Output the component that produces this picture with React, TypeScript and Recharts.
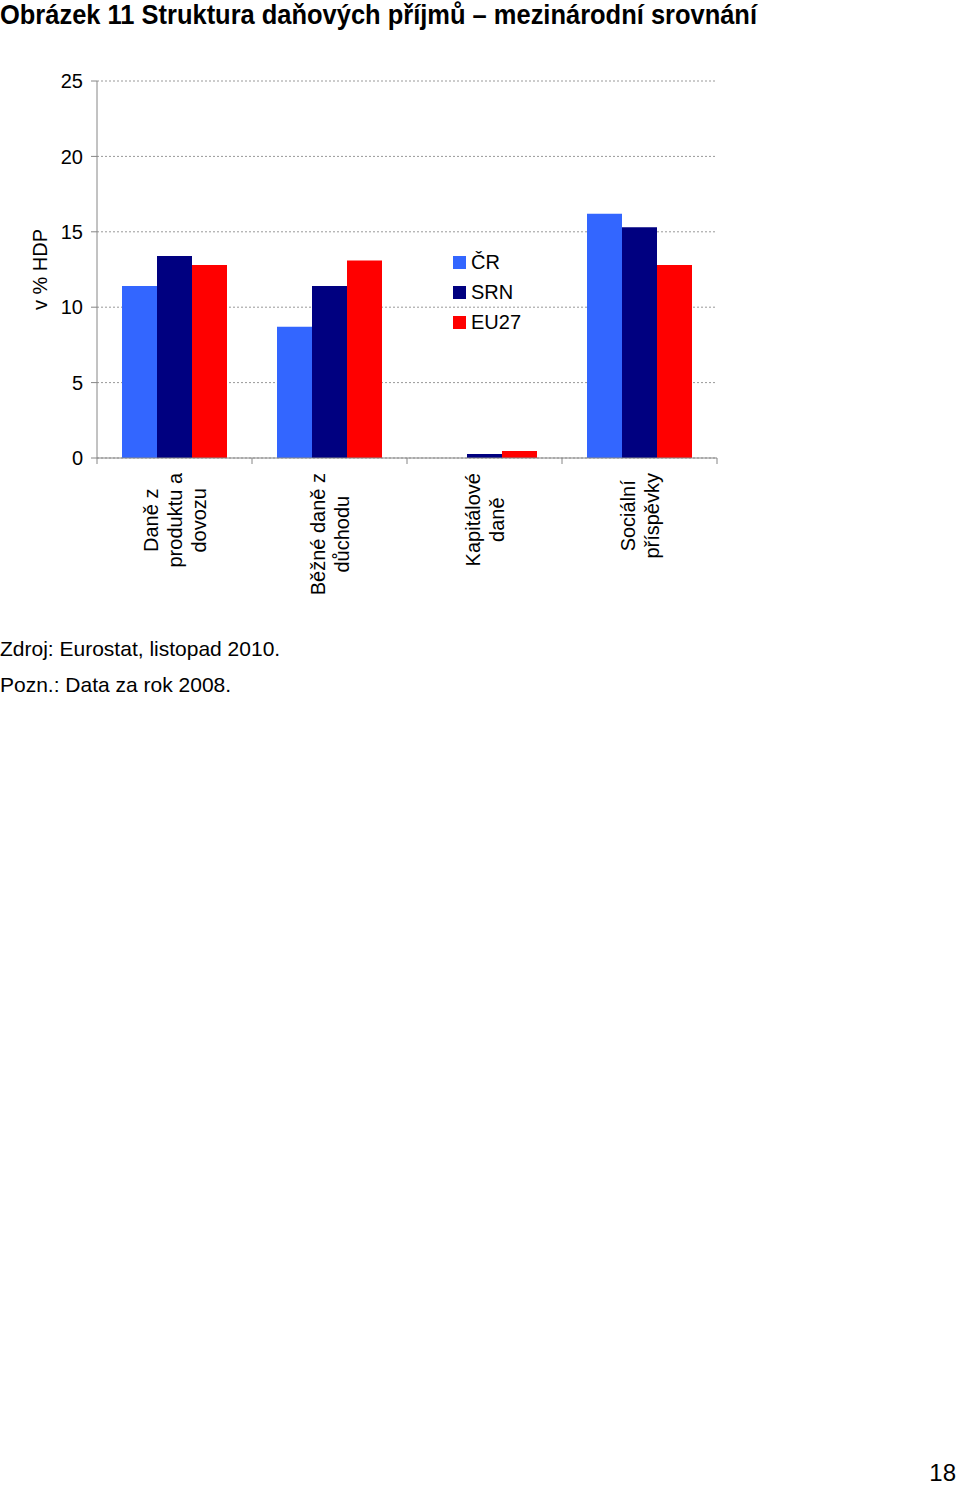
import React from 'react'
import {
  BarChart,
  Bar,
  XAxis,
  YAxis,
  CartesianGrid,
  Legend,
  Label,
} from 'recharts'

const FONT = '"Liberation Sans", Arial, sans-serif'

const categories = [
  'Daně z produktu a dovozu',
  'Běžné daně z důchodu',
  'Kapitálové daně',
  'Sociální příspěvky',
]
const categoryLines = [
  ['Daně z', 'produktu a', 'dovozu'],
  ['Běžné daně z', 'důchodu'],
  ['Kapitálové', 'daně'],
  ['Sociální', 'příspěvky'],
]
const crValues = [11.4, 8.7, 0, 16.2]
const srnValues = [13.4, 11.4, 0.26, 15.3]
const eu27Values = [12.8, 13.1, 0.46, 12.8]
const yTicks = [0, 5, 10, 15, 20, 25]

const series = [
  { key: 'cr', name: 'ČR', color: '#3366ff' },
  { key: 'srn', name: 'SRN', color: '#000080' },
  { key: 'eu27', name: 'EU27', color: '#ff0000' },
]

const data = categories.map((name, i) => ({
  name,
  cr: crValues[i],
  srn: srnValues[i],
  eu27: eu27Values[i],
}))

const CHART_W = 960
const CHART_H = 608
const X_AXIS_H = 150
const AXIS_Y = CHART_H - X_AXIS_H
const PLOT_LEFT = 97
const PLOT_RIGHT = 717
const BAND = (PLOT_RIGHT - PLOT_LEFT) / categories.length

let ctx: CanvasRenderingContext2D | null = null
function textWidth(s: string) {
  if (!ctx) ctx = document.createElement('canvas').getContext('2d')
  if (!ctx) return s.length * 10
  ctx.font = `20px ${FONT}`
  return ctx.measureText(s).width
}

function CategoryTick(props: any) {
  const { x, index } = props
  const lines = categoryLines[index] || []
  const maxW = Math.max(...lines.map(textWidth))
  const cy = AXIS_Y + 15 + maxW / 2
  const left = x - BAND / 2
  return (
    <g>
      <line x1={left} y1={AXIS_Y} x2={left} y2={AXIS_Y + 6} stroke="#868686" />
      {index === categories.length - 1 && (
        <line x1={left + BAND} y1={AXIS_Y} x2={left + BAND} y2={AXIS_Y + 6} stroke="#868686" />
      )}
      {lines.map((ln, i) => (
        <text
          key={i}
          transform={`translate(${x + (i - (lines.length - 1) / 2) * 24}, ${cy}) rotate(-90)`}
          textAnchor="middle"
          dominantBaseline="central"
          fontSize={20}
          fontFamily={FONT}
          fill="#000"
        >
          {ln}
        </text>
      ))}
    </g>
  )
}

function LegendBox() {
  return (
    <div style={{ fontFamily: FONT, fontSize: 20, color: '#000' }}>
      {series.map((s) => (
        <div key={s.key} style={{ display: 'flex', alignItems: 'center', height: 30 }}>
          <span style={{ width: 13, height: 13, background: s.color, marginRight: 5 }} />
          <span>{s.name}</span>
        </div>
      ))}
    </div>
  )
}

export default function App() {
  return (
    <div
      style={{
        position: 'absolute',
        left: 0,
        top: 0,
        width: 960,
        height: 1485,
        background: '#fff',
        fontFamily: FONT,
      }}
    >
      <svg width={960} height={1485} style={{ position: 'absolute', left: 0, top: 0 }}>
        <text
          x={0}
          y={24}
          fontSize={28}
          fontWeight="bold"
          fontFamily={FONT}
          textLength={757}
          lengthAdjust="spacingAndGlyphs"
        >
          Obrázek 11 Struktura daňových příjmů – mezinárodní srovnání
        </text>
        <text x={0} y={656} fontSize={21} fontFamily={FONT}>
          Zdroj: Eurostat, listopad 2010.
        </text>
        <text x={0} y={692} fontSize={21} fontFamily={FONT}>
          Pozn.: Data za rok 2008.
        </text>
        <text x={956} y={1481} fontSize={24} fontFamily={FONT} textAnchor="end">
          18
        </text>
      </svg>
      <div style={{ position: 'absolute', left: 0, top: 0 }}>
        <BarChart
          width={CHART_W}
          height={CHART_H}
          data={data}
          margin={{ top: 81, right: CHART_W - PLOT_RIGHT, left: 0, bottom: 0 }}
          barCategoryGap={25}
          barGap={0}
        >
          <CartesianGrid vertical={false} stroke="#999" strokeDasharray="2 2" />
          <XAxis
            dataKey="name"
            height={X_AXIS_H}
            interval={0}
            axisLine={{ stroke: '#868686' }}
            tickLine={false}
            tick={<CategoryTick />}
          />
          <YAxis
            width={PLOT_LEFT}
            domain={[0, 25]}
            ticks={yTicks}
            interval={0}
            axisLine={{ stroke: '#868686' }}
            tickLine={{ stroke: '#868686' }}
            tickSize={6}
            tickMargin={8}
            tick={{ fill: '#000', fontSize: 20, fontFamily: FONT }}
          >
            <Label
              content={(p: any) => {
                const vb = p.viewBox || { y: 81, height: 377 }
                return (
                  <text
                    transform={`translate(40, ${vb.y + vb.height / 2}) rotate(-90)`}
                    textAnchor="middle"
                    dominantBaseline="central"
                    fontSize={20}
                    fontFamily={FONT}
                    fill="#000"
                  >
                    v % HDP
                  </text>
                )
              }}
            />
          </YAxis>
          <Legend
            layout="vertical"
            align="center"
            verticalAlign="middle"
            content={<LegendBox />}
            wrapperStyle={{ position: 'absolute', left: 453, top: 247, width: 'auto' }}
          />
          {series.map((s) => (
            <Bar key={s.key} dataKey={s.key} name={s.name} fill={s.color} isAnimationActive={false} />
          ))}
        </BarChart>
      </div>
    </div>
  )
}
